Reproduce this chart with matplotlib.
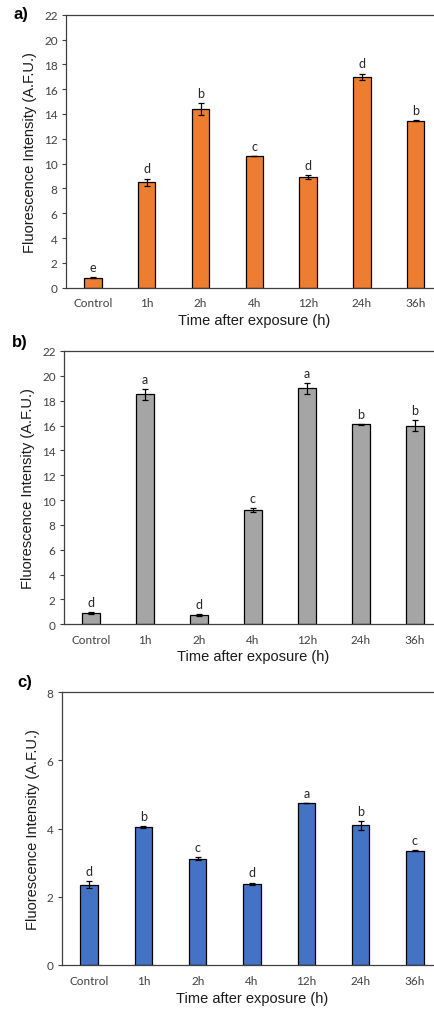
import numpy as np
import matplotlib
matplotlib.use('Agg')
import matplotlib.pyplot as plt

categories = ['Control', '1h', '2h', '4h', '12h', '24h', '36h']

vals_a = [0.8, 8.5, 14.4, 10.6, 8.95, 17.0, 13.45]
err_a = [0.05, 0.3, 0.45, 0.0, 0.15, 0.25, 0.05]
let_a = ['e', 'd', 'b', 'c', 'd', 'd', 'b']

vals_b = [0.9, 18.5, 0.75, 9.2, 19.0, 16.1, 16.0]
err_b = [0.05, 0.45, 0.1, 0.15, 0.45, 0.05, 0.45]
let_b = ['d', 'a', 'd', 'c', 'a', 'b', 'b']

vals_c = [2.35, 4.05, 3.12, 2.38, 4.75, 4.1, 3.35]
err_c = [0.1, 0.02, 0.04, 0.04, 0.01, 0.13, 0.02]
let_c = ['d', 'b', 'c', 'd', 'a', 'b', 'c']

W, H = 434, 1012
fig = plt.figure(figsize=(W / 100, H / 100), dpi=100)

# axes boxes in pixels: left, top, right, bottom (right runs past the crop)
panels = [
    {'vals': vals_a, 'err': err_a, 'let': let_a, 'color': '#ED7D31', 'ymax': 22, 'step': 2,
     'box': (66, 15.7, 442.6, 288.7), 'tag': 'a)', 'tagxy': (13, 15), 'xpad': 3},
    {'vals': vals_b, 'err': err_b, 'let': let_b, 'color': '#A5A5A5', 'ymax': 22, 'step': 2,
     'box': (64, 352, 442, 625.3), 'tag': 'b)', 'tagxy': (12, 343), 'xpad': 3},
    {'vals': vals_c, 'err': err_c, 'let': let_c, 'color': '#4472C4', 'ymax': 8, 'step': 2,
     'box': (62, 693.3, 442, 966), 'tag': 'c)', 'tagxy': (17, 682), 'xpad': 4},
]

x = np.arange(len(categories))
for p in panels:
    l, t, r, b = p['box']
    ax = fig.add_axes([l / W, 1 - b / H, (r - l) / W, (b - t) / H])
    ax.bar(x, p['vals'], width=0.32, color=p['color'], edgecolor='black', linewidth=0.9, zorder=2)
    ax.errorbar(x, p['vals'], yerr=p['err'], fmt='none', ecolor='black', elinewidth=0.9,
                capsize=2.5, capthick=0.9, zorder=3)
    for xi, v, e, s in zip(x, p['vals'], p['err'], p['let']):
        ax.annotate(s, (xi, v + e), xytext=(0, 3), textcoords='offset points',
                    ha='center', va='bottom', fontsize=9, family='Lato', color='#262626')
    ax.set_xlim(-0.5, len(categories) - 0.5)
    ax.set_ylim(0, p['ymax'])
    ax.set_yticks(np.arange(0, p['ymax'] + 0.1, p['step']))
    ax.set_xticks(x)
    ax.set_xticklabels(categories, family='Lato', fontsize=8.5, color='#404040')
    for lab in ax.get_yticklabels():
        lab.set_family('Lato')
        lab.set_fontsize(8.5)
        lab.set_color('#404040')
    ax.tick_params(axis='y', length=3, width=0.8, color='#404040', pad=3)
    ax.tick_params(axis='x', length=0, pad=7)
    ax.spines['right'].set_visible(False)
    for sp in ['left', 'bottom', 'top']:
        ax.spines[sp].set_color('#404040')
        ax.spines[sp].set_linewidth(0.9)
    ax.set_ylabel('Fluorescence Intensity (A.F.U.)', family='Liberation Sans', fontsize=10.5,
                  color='#1a1a1a', labelpad=5)
    ax.set_xlabel('Time after exposure (h)', family='Liberation Sans', fontsize=10.5,
                  color='#1a1a1a', labelpad=p['xpad'])
    fig.text(p['tagxy'][0] / W, 1 - p['tagxy'][1] / H, p['tag'], fontsize=12,
             fontweight='bold', family='Liberation Sans', ha='left', va='center')

fig.savefig('out.png', dpi=100, facecolor='white')
